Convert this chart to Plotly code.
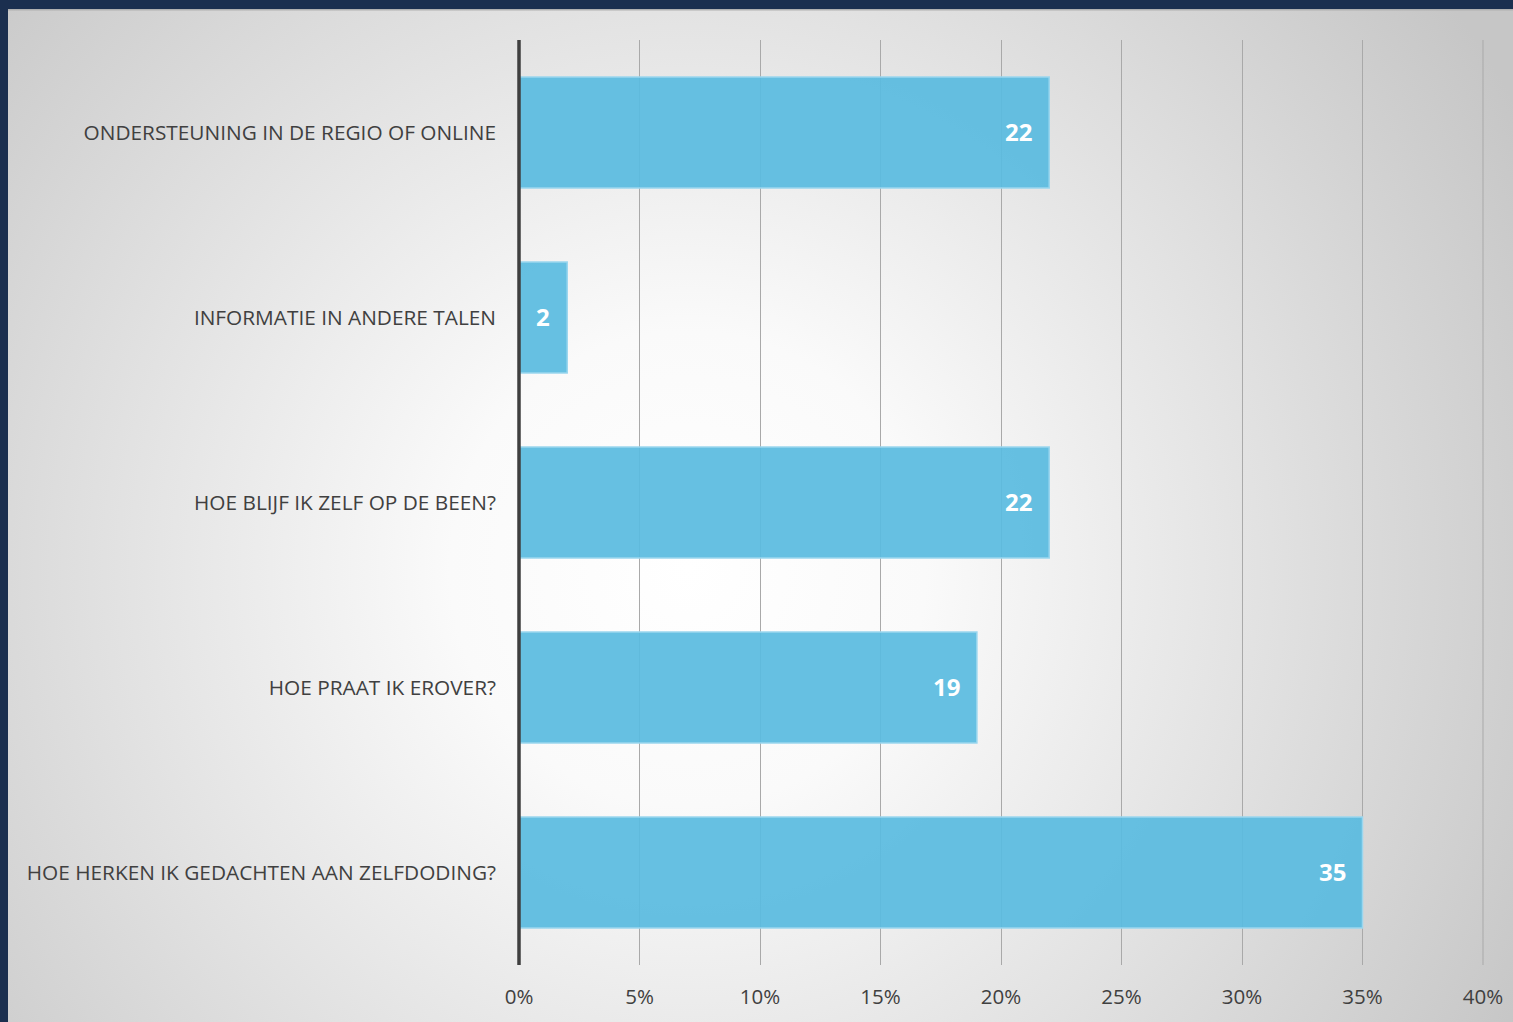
import base64
import plotly.graph_objects as go

categories = [
    "ONDERSTEUNING IN DE REGIO OF ONLINE",
    "INFORMATIE IN ANDERE TALEN",
    "HOE BLIJF IK ZELF OP DE BEEN?",
    "HOE PRAAT IK EROVER?",
    "HOE HERKEN IK GEDACHTEN AAN ZELFDODING?",
]
values = [22, 2, 22, 19, 35]
tick_vals = [0, 5, 10, 15, 20, 25, 30, 35, 40]
tick_text = ["0%", "5%", "10%", "15%", "20%", "25%", "30%", "35%", "40%"]

W, H = 1513, 1022
L, R, T, B = 519, 30, 40, 57
pw, ph = W - L - R, H - T - B

svg = f'''<svg xmlns="http://www.w3.org/2000/svg" width="1505" height="1013" viewBox="0 0 1505 1013">
<defs><radialGradient id="g" gradientUnits="userSpaceOnUse" cx="680" cy="560" r="950">
<stop offset="0" stop-color="#ffffff"/><stop offset="0.25" stop-color="#fafafa"/>
<stop offset="0.6" stop-color="#e2e2e2"/><stop offset="1" stop-color="#c6c6c6"/></radialGradient></defs>
<rect x="0" y="0" width="1505" height="1013" fill="url(#g)"/>
<rect x="0" y="0" width="1505" height="1.5" fill="#b0b0b0"/>
</svg>'''
src = "data:image/svg+xml;base64," + base64.b64encode(svg.encode()).decode()

fig = go.Figure()
fig.add_trace(go.Bar(
    x=values, y=categories, orientation="h",
    marker=dict(color="rgba(90,187,224,0.93)", line=dict(color="#9ad6ee", width=1.5)),
    hoverinfo="skip",
))

for c, v in zip(categories, values):
    fig.add_annotation(x=v, y=c, text=f"<b>{v}</b>", showarrow=False,
                       xanchor="right", xshift=-15, yshift=1,
                       font=dict(family="Open Sans, sans-serif", size=24, color="white"))

fig.add_layout_image(dict(
    source=src, xref="paper", yref="paper",
    x=(8 - L) / pw, y=(H - B - 9) / ph,
    sizex=(W - 8) / pw, sizey=(H - 9) / ph,
    xanchor="left", yanchor="top", sizing="stretch", layer="below",
))

fig.update_layout(
    width=W, height=H,
    margin=dict(l=L, r=R, t=T, b=B, autoexpand=False),
    paper_bgcolor="#1b2f4f",
    plot_bgcolor="rgba(0,0,0,0)",
    bargap=0.4,
    showlegend=False,
    font=dict(family="Open Sans, sans-serif", size=21, color="#404040"),
    xaxis=dict(
        range=[0, 40], tickvals=tick_vals, ticktext=tick_text,
        showgrid=True, gridcolor="#a9a9a9", gridwidth=1,
        zeroline=False, showline=False, ticks="", ticklabelstandoff=17,
        tickfont=dict(size=20.5, color="#404040"),
        fixedrange=True, automargin=False,
    ),
    yaxis=dict(
        categoryorder="array", categoryarray=categories[::-1],
        showgrid=False, zeroline=False, ticks="", showline=False,
        ticklabelstandoff=22, tickfont=dict(size=20.8, color="#404040"),
        fixedrange=True, automargin=False,
    ),
    shapes=[
        dict(type="line", xref="paper", yref="paper", x0=1, x1=1, y0=0, y1=1,
             line=dict(color="#a9a9a9", width=1), layer="below"),
        dict(type="line", xref="paper", yref="paper", x0=0, x1=0, y0=0, y1=1,
             line=dict(color="#3f3f3f", width=3.5), layer="above"),
    ],
)

fig.write_html("out.html")
